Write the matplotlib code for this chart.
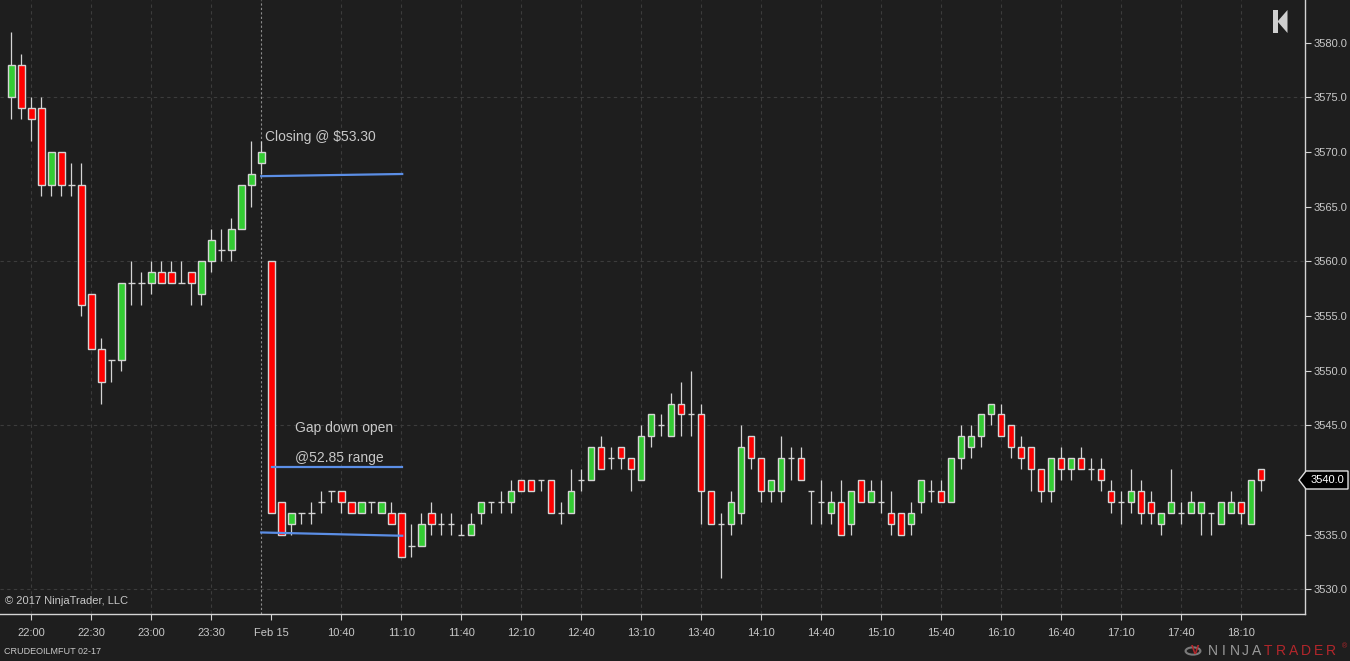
import matplotlib.pyplot as plt
from matplotlib.patches import Polygon, Circle
import numpy as np

plt.rcParams['font.family'] = ['Liberation Sans', 'DejaVu Sans']

# 5 minute bars, CRUDEOILMFUT 02-17
opens = [3575, 3578, 3574, 3574, 3567, 3570, 3567, 3567, 3557, 3552,
         3551, 3551, 3558, 3558, 3558, 3559, 3559, 3558, 3559, 3557,
         3560, 3561, 3561, 3563, 3567, 3569,
         3560, 3538, 3536, 3537, 3537, 3538, 3539, 3539, 3538, 3537,
         3538, 3537, 3537, 3537, 3534, 3534, 3537, 3536, 3536, 3535,
         3535, 3537, 3538, 3538, 3538, 3540, 3540, 3540, 3540, 3537,
         3537, 3540, 3540, 3543, 3542, 3543, 3542, 3540, 3544, 3545,
         3544, 3547, 3546, 3546, 3539, 3536, 3536, 3537, 3544, 3542,
         3539, 3539, 3542, 3542, 3539, 3538, 3537, 3538, 3536, 3540,
         3538, 3538, 3537, 3537, 3536, 3538, 3539, 3539, 3538, 3542,
         3543, 3544, 3546, 3546, 3545, 3543, 3543, 3541, 3539, 3542,
         3541, 3542, 3541, 3541, 3539, 3538, 3538, 3539, 3538, 3536,
         3537, 3537, 3537, 3537, 3537, 3536, 3537, 3538, 3536, 3541]
highs = [3581, 3579, 3575, 3575, 3570, 3570, 3569, 3569, 3557, 3553,
         3551, 3558, 3560, 3559, 3560, 3560, 3560, 3560, 3559, 3560,
         3563, 3563, 3564, 3567, 3571, 3571,
         3560, 3538, 3537, 3537, 3538, 3539, 3539, 3539, 3538, 3538,
         3538, 3538, 3538, 3537, 3536, 3537, 3538, 3537, 3537, 3536,
         3537, 3538, 3538, 3539, 3540, 3540, 3540, 3540, 3540, 3538,
         3541, 3541, 3543, 3544, 3543, 3543, 3542, 3545, 3546, 3546,
         3548, 3549, 3550, 3547, 3539, 3537, 3539, 3545, 3544, 3542,
         3540, 3544, 3543, 3543, 3539, 3540, 3539, 3540, 3539, 3540,
         3540, 3540, 3539, 3537, 3538, 3540, 3540, 3540, 3542, 3545,
         3545, 3546, 3547, 3547, 3545, 3544, 3543, 3541, 3542, 3543,
         3542, 3543, 3542, 3542, 3540, 3539, 3541, 3540, 3539, 3537,
         3541, 3538, 3539, 3538, 3537, 3538, 3539, 3538, 3540, 3541]
lows = [3573, 3573, 3571, 3566, 3566, 3566, 3566, 3555, 3552, 3547,
        3549, 3550, 3556, 3556, 3557, 3558, 3558, 3558, 3556, 3556,
        3559, 3560, 3560, 3563, 3565, 3568,
        3537, 3535, 3535, 3536, 3536, 3537, 3538, 3537, 3537, 3537,
        3537, 3537, 3536, 3533, 3533, 3534, 3535, 3535, 3535, 3535,
        3535, 3536, 3537, 3537, 3537, 3539, 3539, 3539, 3537, 3536,
        3537, 3539, 3540, 3541, 3541, 3541, 3539, 3540, 3543, 3544,
        3544, 3544, 3544, 3536, 3536, 3531, 3535, 3536, 3541, 3538,
        3538, 3538, 3540, 3540, 3536, 3536, 3536, 3535, 3535, 3538,
        3538, 3537, 3535, 3535, 3535, 3537, 3538, 3538, 3538, 3541,
        3542, 3543, 3545, 3544, 3542, 3541, 3539, 3538, 3538, 3540,
        3540, 3541, 3540, 3539, 3537, 3536, 3537, 3536, 3536, 3535,
        3537, 3536, 3537, 3535, 3535, 3536, 3537, 3536, 3536, 3539]
closes = [3578, 3574, 3573, 3567, 3570, 3567, 3567, 3556, 3552, 3549,
          3551, 3558, 3558, 3558, 3559, 3558, 3558, 3558, 3558, 3560,
          3562, 3561, 3563, 3567, 3568, 3570,
          3537, 3535, 3537, 3537, 3537, 3538, 3539, 3538, 3537, 3538,
          3538, 3538, 3536, 3533, 3534, 3536, 3536, 3536, 3536, 3535,
          3536, 3538, 3538, 3538, 3539, 3539, 3539, 3540, 3537, 3537,
          3539, 3540, 3543, 3541, 3542, 3542, 3541, 3544, 3546, 3545,
          3547, 3546, 3546, 3539, 3536, 3536, 3538, 3543, 3542, 3539,
          3540, 3542, 3542, 3540, 3539, 3538, 3538, 3535, 3539, 3538,
          3539, 3538, 3536, 3535, 3537, 3540, 3539, 3538, 3542, 3544,
          3544, 3546, 3547, 3544, 3543, 3542, 3541, 3539, 3542, 3541,
          3542, 3541, 3541, 3540, 3538, 3538, 3539, 3537, 3537, 3537,
          3538, 3537, 3538, 3538, 3537, 3538, 3538, 3537, 3540, 3540]

tick_idx = [2, 8, 14, 20, 26, 33, 39, 45, 51, 57, 63, 69, 75, 81, 87,
            93, 99, 105, 111, 117, 123]
tick_labels = ['22:00', '22:30', '23:00', '23:30', 'Feb 15', '10:40', '11:10',
               '11:40', '12:10', '12:40', '13:10', '13:40', '14:10', '14:40',
               '15:10', '15:40', '16:10', '16:40', '17:10', '17:40', '18:10']
price_ticks = [3530, 3535, 3540, 3545, 3550, 3555, 3560, 3565, 3570, 3575, 3580]
session_break = 25

# drawn lines on the chart
line_close_x = [25, 39.1]
line_close_y = [3567.8, 3568.0]
line_gap_x = [26.1, 39.1]
line_gap_y = [3541.2, 3541.2]
line_low_x = [25, 39.1]
line_low_y = [3535.2, 3534.9]

bg = '#1e1e1e'
fg = '#c8c8c8'
edge = '#d4d4d4'
green = '#33cc33'
red = '#ff0000'
blue = '#5b8ee6'

W, H = 1350, 661
fig = plt.figure(figsize=(W / 100, H / 100), dpi=100)
fig.patch.set_facecolor(bg)
ax = fig.add_axes([0, 47 / H, 1305 / W, 614 / H])
ax.set_facecolor(bg)

x = np.arange(len(opens))
o = np.array(opens); h = np.array(highs); l = np.array(lows); c = np.array(closes)
up = c > o
dn = c < o
flat = c == o
bw = 0.66

ax.vlines(x, l, h, color=edge, lw=0.9, zorder=2)
ax.bar(x[up], c[up] - o[up], bottom=o[up], width=bw, color=green,
       edgecolor=edge, linewidth=1.0, zorder=3)
ax.bar(x[dn], o[dn] - c[dn], bottom=c[dn], width=bw, color=red,
       edgecolor=edge, linewidth=1.0, zorder=3)
ax.hlines(c[flat], x[flat] - bw / 2, x[flat] + bw / 2, color=edge, lw=1.0, zorder=3)

# grid
for t in tick_idx:
    if t != 26:
        ax.axvline(t, color='#3c3c3c', lw=0.8, ls=(0, (3, 3)), zorder=0)
for p in [3530, 3545, 3560, 3575]:
    ax.axhline(p, color='#3c3c3c', lw=0.8, ls=(0, (3, 3)), zorder=0)
ax.axvline(session_break, color='#8c8c8c', lw=0.8, ls=(0, (2, 2)), zorder=1)

# drawing objects
ax.plot(line_close_x, line_close_y, color=blue, lw=1.6, zorder=4)
ax.plot(line_gap_x, line_gap_y, color=blue, lw=1.6, zorder=4)
ax.plot(line_low_x, line_low_y, color=blue, lw=1.6, zorder=4)
ax.text(25.4, 3571.4, 'Closing @ $53.30', color=fg, fontsize=10, va='center', ha='left')
ax.text(28.4, 3544.8, 'Gap down open', color=fg, fontsize=10, va='center', ha='left')
ax.text(28.4, 3542.0, '@52.85 range', color=fg, fontsize=10, va='center', ha='left')

ax.set_xlim(-1.13, 129.4)
ax.set_ylim(3527.74, 3583.92)

ax.set_xticks(tick_idx, tick_labels)
ax.set_yticks(price_ticks)
# the 3540 label sits under the last-price marker
ax.set_yticklabels(['' if v == closes[-1] else '%.1f' % v for v in price_ticks])
ax.yaxis.tick_right()
ax.tick_params(axis='x', colors=edge, labelcolor=fg, labelsize=8, length=4, width=0.8, pad=6)
ax.tick_params(axis='y', colors=edge, labelcolor=fg, labelsize=8, length=4, width=0.8, pad=2)

for s in ['left', 'top']:
    ax.spines[s].set_visible(False)
for s in ['right', 'bottom']:
    ax.spines[s].set_color(edge)
    ax.spines[s].set_linewidth(1.0)

ax.text(0.004, 13 / 614, '\u00a9 2017 NinjaTrader, LLC', transform=ax.transAxes,
        color=fg, fontsize=8, va='center', ha='left')


def fx(px):
    return px / W


def fy(py):
    return 1 - py / H


# current price marker
marker = Polygon([(fx(1299), fy(480)), (fx(1306), fy(471)), (fx(1348), fy(471)),
                  (fx(1348), fy(489)), (fx(1306), fy(489))], closed=True,
                 transform=fig.transFigure, facecolor='black', edgecolor='#e0e0e0', lw=1)
fig.add_artist(marker)
fig.text(fx(1327), fy(480), '%.1f' % closes[-1], color='white', fontsize=8,
         ha='center', va='center')

# scroll-to-end icon
fig.add_artist(Polygon([(fx(1273), fy(10)), (fx(1277.5), fy(10)), (fx(1277.5), fy(33)),
                        (fx(1273), fy(33))], closed=True, transform=fig.transFigure,
                       facecolor='#cfcfcf', edgecolor='none'))
fig.add_artist(Polygon([(fx(1277.5), fy(21.5)), (fx(1287.5), fy(10)), (fx(1287.5), fy(33))],
                       closed=True, transform=fig.transFigure,
                       facecolor='#cfcfcf', edgecolor='none'))

fig.text(fx(4), fy(651), 'CRUDEOILMFUT 02-17', color=fg, fontsize=6.5,
         ha='left', va='center')

# NinjaTrader logo
fig.add_artist(Circle((fx(1193), fy(651)), 0.0055, transform=fig.transFigure,
                      facecolor='none', edgecolor='#7a7a7a', lw=1.5))
fig.text(fx(1195), fy(651), 'V', color='#b3262b', fontsize=9, fontweight='bold',
         ha='center', va='center')
for i, ch in enumerate('NINJA'):
    fig.text(fx(1213 + i * 10.8), fy(651), ch, color='#9a9a9a', fontsize=10,
             ha='center', va='center')
for i, ch in enumerate('TRADER'):
    fig.text(fx(1268 + i * 12.6), fy(651), ch, color='#b3262b', fontsize=10,
             ha='center', va='center')
fig.text(fx(1344), fy(647), '\u00ae', color='#b3262b', fontsize=5, ha='center', va='center')

fig.savefig('out.png', dpi=100, facecolor=bg)
